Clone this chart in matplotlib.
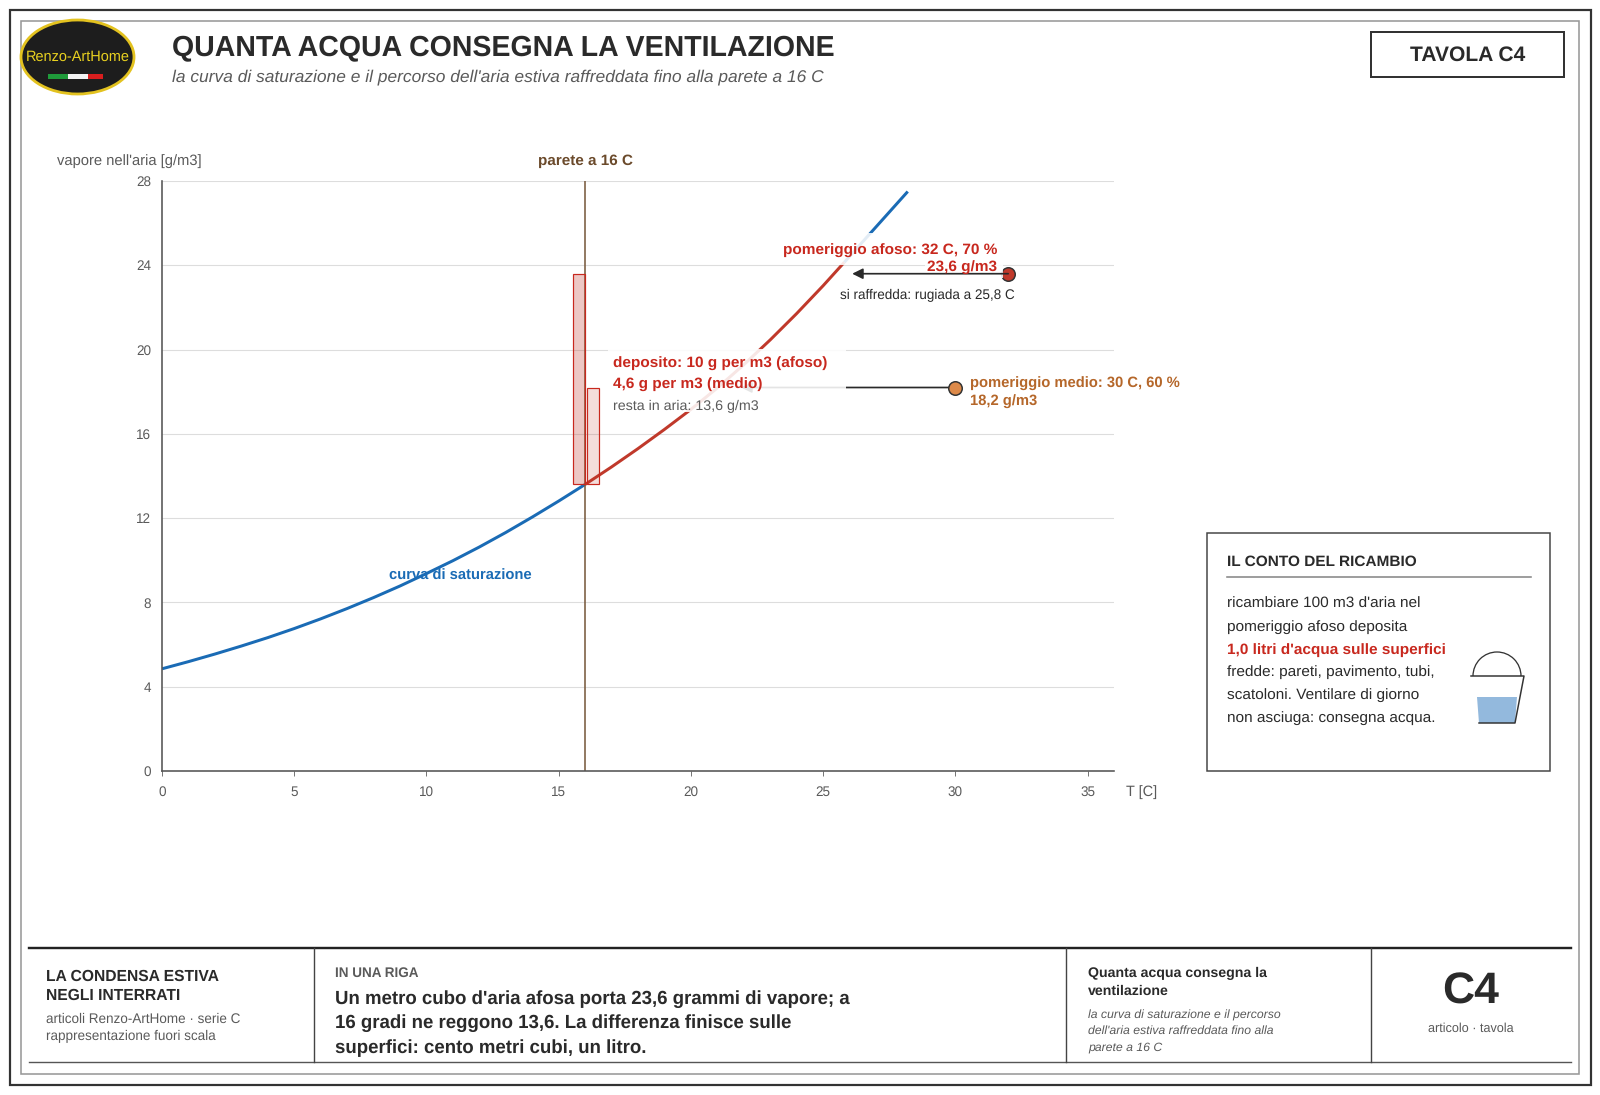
# -*- coding: utf-8 -*-
"""plot.py - tavola C4: quanta acqua consegna la ventilazione"""
import matplotlib
matplotlib.use("Agg")
import matplotlib.pyplot as plt
from matplotlib.patches import Arc, Ellipse, Polygon, Rectangle

plt.rcParams["font.family"] = ["Liberation Sans", "DejaVu Sans"]
plt.rcParams["text.hinting"] = "no_hinting"

W, H = 1600, 1095

# saturation curve
temp_c = [0, 1, 2, 3, 4, 5, 6, 7, 8, 9, 10, 11, 12, 13, 14, 15, 16, 17, 18, 19,
          20, 21, 22, 23, 24, 25, 25.8, 26, 27, 28, 28.2]
sat_g = [4.85, 5.19, 5.55, 5.93, 6.33, 6.76, 7.22, 7.71, 8.23, 8.78, 9.37, 9.98,
         10.63, 11.32, 12.05, 12.81, 13.60, 14.43, 15.30, 16.21, 17.16, 18.18,
         19.28, 20.46, 21.71, 23.03, 24.14, 24.42, 25.82, 27.22, 27.50]
wall_t = 16
dew_t = 25.8
afoso_t, afoso_g = 32, 23.6
medio_t, medio_g = 30, 18.2
left_g = 13.6
medio_tip_t = 21.9
afoso_tip_t = 26.1
x_ticks = [0, 5, 10, 15, 20, 25, 30, 35]
y_ticks = [0, 4, 8, 12, 16, 20, 24, 28]

panel_lines = ["ricambiare 100 m3 d'aria nel", "pomeriggio afoso deposita",
               "1,0 litri d'acqua sulle superfici", "fredde: pareti, pavimento, tubi,",
               "scatoloni. Ventilare di giorno", "non asciuga: consegna acqua."]
riga_lines = ["Un metro cubo d'aria afosa porta 23,6 grammi di vapore; a",
              "16 gradi ne reggono 13,6. La differenza finisce sulle",
              "superfici: cento metri cubi, un litro."]

DARK = "#2a2a2a"
GREY = "#5a5a5a"
RED = "#c8281e"
CURVE_RED = "#c0392b"
BLUE = "#1a6bb5"
ORANGE = "#b5672a"
BROWN = "#6b4a2b"


def px(size):
    return size * 0.72


fig = plt.figure(figsize=(W / 100, H / 100), dpi=100, facecolor="white")

# page layer, in pixels
bg = fig.add_axes([0, 0, 1, 1], zorder=0)
bg.set_xlim(0, W)
bg.set_ylim(H, 0)
bg.axis("off")

# chart
L, R, T, B = 162, 1114, 181, 771
ax = fig.add_axes([L / W, 1 - B / H, (R - L) / W, (B - T) / H], zorder=1)
ax.patch.set_alpha(0)
ax.set_xlim(0, 36)
ax.set_ylim(0, 28)
for s in ("top", "right"):
    ax.spines[s].set_visible(False)
for s in ("left", "bottom"):
    ax.spines[s].set_color("#555555")
    ax.spines[s].set_linewidth(px(1.6))
ax.set_xticks(x_ticks)
ax.set_yticks(y_ticks)
ax.tick_params(axis="x", length=px(5), width=px(1), color="#777777",
               labelsize=px(13.5), labelcolor=GREY, pad=px(10))
ax.tick_params(axis="y", length=0, labelsize=px(13.5), labelcolor=GREY, pad=px(11))
ax.grid(axis="y", color="#dddddd", linewidth=px(1.1))
ax.set_axisbelow(True)

# text layer on top
ov = fig.add_axes([0, 0, 1, 1], zorder=2)
ov.set_xlim(0, W)
ov.set_ylim(H, 0)
ov.axis("off")
ov.patch.set_alpha(0)


def txt(x, y, s, size, color=DARK, bold=False, italic=False, ha="left"):
    ov.text(x, y + size * 0.08, s, fontsize=px(size), color=color, ha=ha, va="center",
            fontweight="bold" if bold else "normal",
            fontstyle="italic" if italic else "normal")


# curve and marks
low_t = [t for t in temp_c if t <= wall_t]
low_g = [g for t, g in zip(temp_c, sat_g) if t <= wall_t]
red_t = [t for t in temp_c if wall_t <= t <= dew_t]
red_g = [g for t, g in zip(temp_c, sat_g) if wall_t <= t <= dew_t]
top_t = [t for t in temp_c if t >= dew_t]
top_g = [g for t, g in zip(temp_c, sat_g) if t >= dew_t]
ax.plot(low_t, low_g, color=BLUE, lw=px(3), zorder=2, solid_capstyle="butt")
ax.plot(top_t, top_g, color=BLUE, lw=px(3), zorder=2, solid_capstyle="butt")
ax.plot(red_t, red_g, color=CURVE_RED, lw=px(3), zorder=2.1, solid_capstyle="butt")
ax.plot([wall_t, wall_t], [0, 28], color="#7a5c40", lw=px(1.6), zorder=2.2)

ax.bar(15.78, afoso_g - left_g, width=0.45, bottom=left_g, facecolor=(0.75, 0.22, 0.17, 0.28),
       edgecolor=RED, linewidth=px(1.2), zorder=2.3)
ax.bar(16.3, medio_g - left_g, width=0.45, bottom=left_g, facecolor=(0.75, 0.22, 0.17, 0.17),
       edgecolor=RED, linewidth=px(1.2), zorder=2.3)

ax.annotate("", xy=(medio_tip_t, medio_g), xytext=(medio_t, medio_g), zorder=3,
            arrowprops=dict(arrowstyle="-|>", color=DARK, lw=px(1.7), shrinkA=0, shrinkB=0,
                            mutation_scale=px(22)))
ax.plot([afoso_t], [afoso_g], "o", ms=px(13.5), mfc=CURVE_RED, mec="#333333", mew=px(1.5), zorder=3)
ax.plot([medio_t], [medio_g], "o", ms=px(13.5), mfc="#dd8a4a", mec="#333333", mew=px(1.5), zorder=3)

# white label backings, they fade what runs behind the labels
for x0, y0, x1, y1 in [(780, 233, 1003, 265), (925, 262, 1003, 278), (608, 349, 846, 412)]:
    ax.add_patch(Rectangle((x0, y0), x1 - x0, y1 - y0, transform=ov.transData, facecolor="white",
                           edgecolor="none", alpha=0.88, zorder=4, clip_on=False))
ax.annotate("", xy=(afoso_tip_t, afoso_g), xytext=(afoso_t, afoso_g), zorder=5,
            arrowprops=dict(arrowstyle="-|>", color=DARK, lw=px(1.7), shrinkA=0, shrinkB=0,
                            mutation_scale=px(22)))

# chart labels
txt(57, 160, "vapore nell'aria [g/m3]", 14.7, GREY)
txt(1126, 791, "T [C]", 14.5, GREY)
txt(585, 160, "parete a 16 C", 15.3, BROWN, bold=True, ha="center")
txt(389, 575, "curva di saturazione", 14.8, BLUE, bold=True)
txt(997, 250, "pomeriggio afoso: 32 C, 70 %", 15.45, RED, bold=True, ha="right")
txt(997, 267, "23,6 g/m3", 15.45, RED, bold=True, ha="right")
txt(840, 294, "si raffredda: rugiada a 25,8 C", 13.5, DARK)
txt(613, 362.5, "deposito: 10 g per m3 (afoso)", 15.45, RED, bold=True)
txt(613, 383.5, "4,6 g per m3 (medio)", 15.45, RED, bold=True)
txt(613, 405, "resta in aria: 13,6 g/m3", 14.2, GREY)
txt(970, 383, "pomeriggio medio: 30 C, 60 %", 14.8, ORANGE, bold=True)
txt(970, 401, "18,2 g/m3", 14.8, ORANGE, bold=True)

# page frames
bg.add_patch(Rectangle((10, 10), 1580.5, 1075, fill=False, edgecolor="#333333", lw=px(2.2)))
bg.add_patch(Rectangle((21, 21), 1558, 1053, fill=False, edgecolor="#999999", lw=px(1.6)))

# header
bg.add_patch(Ellipse((77.5, 57), 113, 74, facecolor="#1d1d1d", edgecolor="#e3c21f", lw=px(2.8)))
ov.text(77.5, 57, "Renzo-ArtHome", fontsize=px(14.5), color="#e8d020", ha="center", va="center")
for x0, x1, c in [(48, 68, "#1f9a3a"), (68, 88, "#f2f2f2"), (88, 103, "#d81e1e")]:
    bg.add_patch(Rectangle((x0, 74), x1 - x0, 4.7, facecolor=c, edgecolor="none", zorder=3))
txt(172, 45.5, "QUANTA ACQUA CONSEGNA LA VENTILAZIONE", 28.55, DARK, bold=True)
txt(172, 76, "la curva di saturazione e il percorso dell'aria estiva raffreddata fino alla parete a 16 C",
    17.35, GREY, italic=True)
bg.add_patch(Rectangle((1371, 32), 193, 44.5, fill=False, edgecolor="#333333", lw=px(2)))
txt(1468, 54, "TAVOLA C4", 21, DARK, bold=True, ha="center")

# side panel
bg.add_patch(Rectangle((1207, 533), 343, 238, fill=False, edgecolor="#444444", lw=px(1.5)))
txt(1227, 560.5, "IL CONTO DEL RICAMBIO", 15.4, DARK, bold=True)
bg.plot([1227, 1531], [577, 577], color="#888888", lw=px(1.6))
for y, line in zip([603, 625.5, 648.5, 671, 694, 716.5], panel_lines):
    if line.startswith("1,0"):
        txt(1227, y, line, 15.35, RED, bold=True)
    else:
        txt(1227, y, line, 15.4, DARK)
bg.add_patch(Polygon([(1477, 697), (1517, 697), (1515, 723), (1479, 723)], facecolor="#93b9dd", edgecolor="none"))
bg.plot([1471, 1524, 1515, 1479], [676, 676, 723, 723], color="#333333", lw=px(1.5))
bg.add_patch(Arc((1497, 676), 48, 48, theta1=180, theta2=360, edgecolor="#333333", lw=px(1.3)))

# footer
bg.plot([29, 1571], [948, 948], color="#222222", lw=px(2.4))
bg.plot([29, 1571], [1062, 1062], color="#555555", lw=px(1.4))
for x in (314, 1066, 1371):
    bg.plot([x, x], [948, 1062], color="#444444", lw=px(1.4))
txt(46, 975, "LA CONDENSA ESTIVA", 15.65, DARK, bold=True)
txt(46, 994.5, "NEGLI INTERRATI", 15.65, DARK, bold=True)
txt(46, 1018, "articoli Renzo-ArtHome · serie C", 13.5, GREY)
txt(46, 1035, "rappresentazione fuori scala", 13.5, GREY)
txt(335, 972, "IN UNA RIGA", 13.5, GREY, bold=True)
for y, line in zip([997.5, 1021.5, 1046.5], riga_lines):
    txt(335, y, line, 18.6, DARK, bold=True)
txt(1088, 972, "Quanta acqua consegna la", 14.1, DARK, bold=True)
txt(1088, 990, "ventilazione", 14.1, DARK, bold=True)
txt(1088, 1014, "la curva di saturazione e il percorso", 12.25, GREY, italic=True)
txt(1088, 1030, "dell'aria estiva raffreddata fino alla", 12.25, GREY, italic=True)
txt(1088, 1046, "parete a 16 C", 12.25, GREY, italic=True)
txt(1471, 989, "C4", 44.5, DARK, bold=True, ha="center")
txt(1471, 1028, "articolo · tavola", 12.6, GREY, ha="center")

fig.savefig("out.png", dpi=100, facecolor="white")
plt.close(fig)
